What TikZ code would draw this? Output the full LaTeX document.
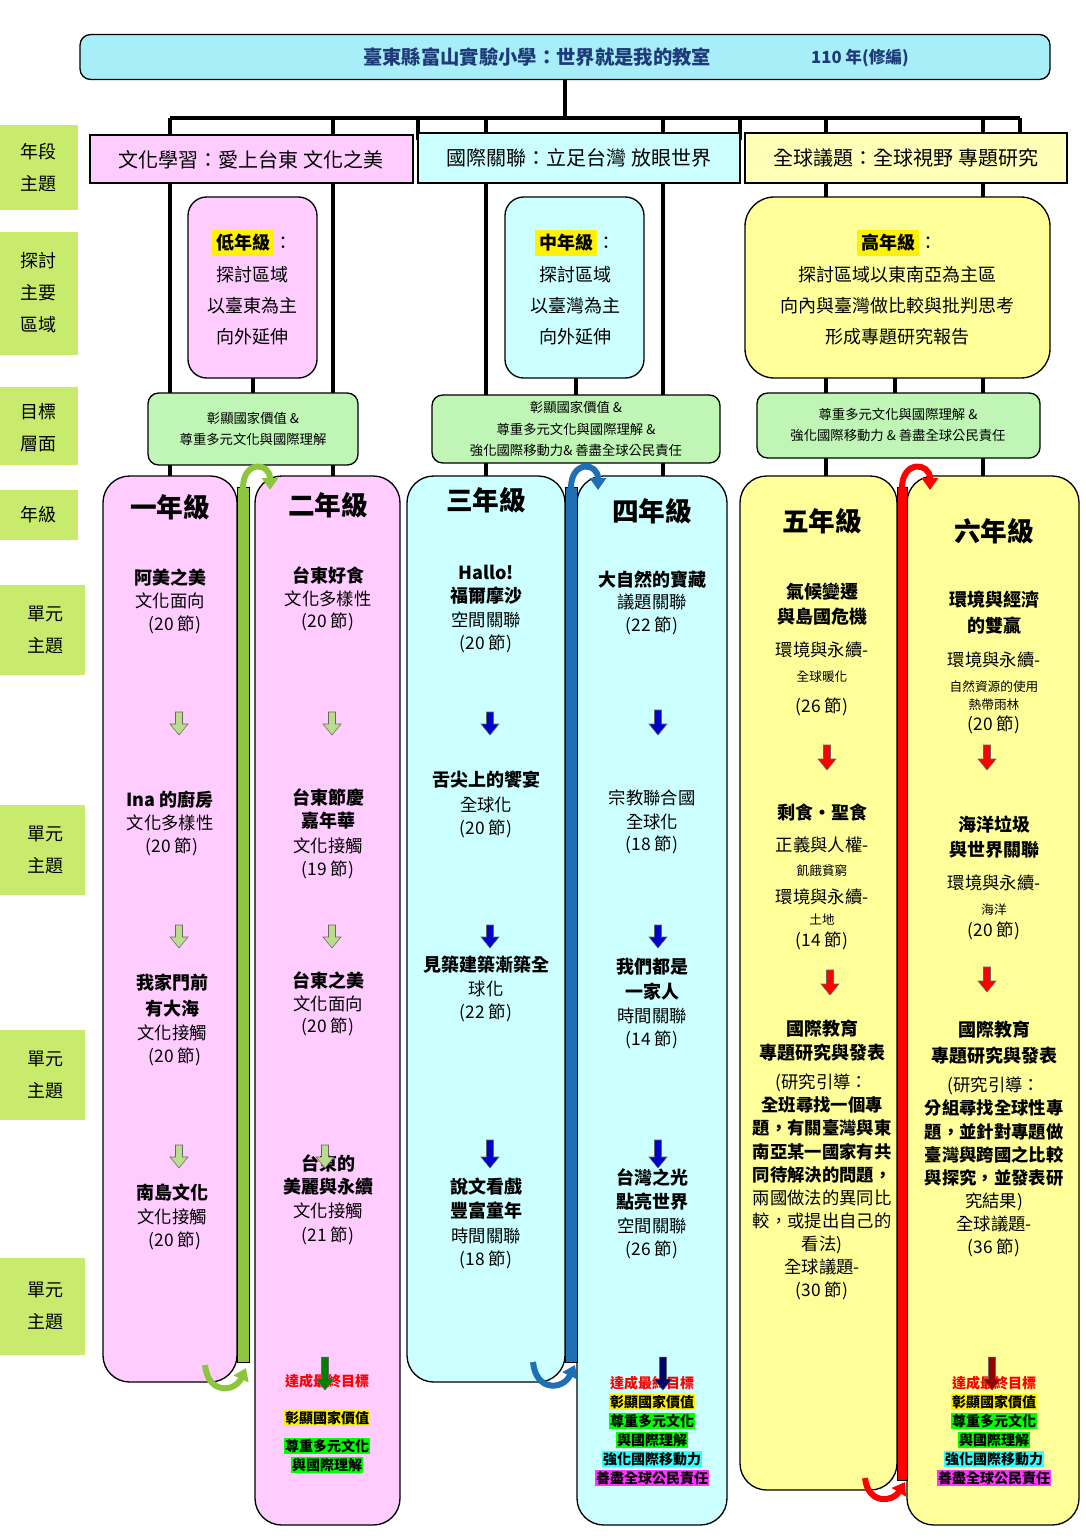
\documentclass[tikz,border=0pt]{standalone}
\usepackage{fontspec}
\setmainfont{Noto Sans CJK TC}
\usetikzlibrary{arrows.meta}
\definecolor{lab}{HTML}{C8EB6E}
\definecolor{pinkf}{HTML}{FFCCFF}
\definecolor{cyanf}{HTML}{CCFFFF}
\definecolor{yelf}{HTML}{FFFF99}
\definecolor{goalf}{HTML}{BFF5B5}
\definecolor{titf}{HTML}{A8EEF8}
\definecolor{gbar}{HTML}{8CC63F}
\definecolor{bbar}{HTML}{1F6FB5}
\definecolor{titc}{HTML}{1F3A78}
\definecolor{mag}{HTML}{FF33FF}
\definecolor{brt}{HTML}{00FF00}
\definecolor{cy}{HTML}{33FFFF}
\tikzset{
  x=0.75pt,y=-0.75pt,
  lbl/.style={fill=lab,draw=none,align=center,font=\fontsize{13.5}{24}\selectfont,inner sep=0},
  box/.style={draw=black,line width=1pt,rounded corners=14pt},
  t/.style={align=center,font=\fontsize{13}{15}\selectfont,inner sep=0},
  b/.style={t,font=\fontsize{13.5}{15}\selectfont\bfseries},
  s/.style={t,font=\fontsize{9.5}{11}\selectfont},
  g/.style={t,font=\fontsize{20}{22}\selectfont\bfseries},
  tree/.style={line width=3pt,black},
  hl/.style={t,font=\fontsize{10.5}{12}\selectfont\bfseries,inner sep=1pt},
}
\newcommand{\darr}[4]{% x y1 y2 color
  \fill[#4,draw=black!60] (#1-3.5,#2) -- (#1+3.5,#2) -- (#1+3.5,#3-11) -- (#1+9,#3-11) -- (#1,#3) -- (#1-9,#3-11) -- (#1-3.5,#3-11) -- cycle;}
\begin{document}
\begin{tikzpicture}
\useasboundingbox (0,0) rectangle (1085,1538);
% tree lines
\draw[tree] (565,80) -- (565,118);
\draw[tree] (170,118) -- (1020,118);
\foreach \xx in {170,333,418,486,663,740,826,983,1020} \draw[tree] (\xx,118) -- (\xx,140);
\foreach \xx in {170,333,486,663,826,983} \draw[tree] (\xx,118) -- (\xx,480);
\foreach \xx in {253,576,895} \draw[tree] (\xx,370) -- (\xx,400);
% title
\node[box,fill=titf,rounded corners=8pt,minimum width=970*0.75pt,minimum height=45*0.75pt] (title) at (565,57) {};
\node[t,text=titc,font=\fontsize{14.5}{16}\selectfont\bfseries] (tt) at (537,57) {臺東縣富山實驗小學：世界就是我的教室};
\node[t,text=titc,font=\fontsize{12.5}{14}\selectfont\bfseries] (ty) at (860,58) {110 年(修編)};
% left labels
\fill[lab] (0,125) rectangle (78,210); \node[lbl] (l1) at (39,168) {年段\\主題};
\fill[lab] (0,232) rectangle (78,355); \node[lbl] (l2) at (39,293) {探討\\主要\\區域};
\fill[lab] (0,387) rectangle (78,465); \node[lbl] (l3) at (39,428) {目標\\層面};
\fill[lab] (0,490) rectangle (78,540); \node[lbl] (l4) at (39,515) {年級};
\fill[lab] (0,585) rectangle (85,675); \node[lbl] (l5) at (45,630) {單元\\主題};
\fill[lab] (0,805) rectangle (85,895); \node[lbl] (l6) at (45,850) {單元\\主題};
\fill[lab] (0,1030) rectangle (85,1120); \node[lbl] (l7) at (45,1075) {單元\\主題};
\fill[lab] (0,1258) rectangle (85,1355); \node[lbl] (l8) at (45,1306) {單元\\主題};
% section headers
\draw[fill=pinkf,line width=1pt] (90,135) rectangle (413,183);
\node[t,font=\fontsize{15}{17}\selectfont] (h1) at (251,160) {文化學習：愛上台東\ 文化之美};
\draw[fill=cyanf,line width=1pt] (418,133) rectangle (740,183);
\node[t,font=\fontsize{15}{17}\selectfont] (h2) at (579,158) {國際關聯：立足台灣\ 放眼世界};
\draw[fill=yelf!70!white,line width=1pt] (745,133) rectangle (1067,183);
\node[t,font=\fontsize{15}{17}\selectfont] (h3) at (906,158) {全球議題：全球視野\ 專題研究};
% area boxes
\draw[box,fill=pinkf] (188,197) rectangle (317,378);
\node[t,font=\fontsize{13.5}{23.5}\selectfont] (a1) at (252,288) {\colorbox{yellow}{\bfseries 低年級}：\\探討區域\\以臺東為主\\向外延伸};
\draw[box,fill=cyanf] (505,197) rectangle (644,378);
\node[t,font=\fontsize{13.5}{23.5}\selectfont] (a2) at (575,288) {\colorbox{yellow}{\bfseries 中年級}：\\探討區域\\以臺灣為主\\向外延伸};
\draw[box,fill=yelf,rounded corners=22pt] (745,197) rectangle (1050,378);
\node[t,font=\fontsize{13.5}{23.5}\selectfont] (a3) at (897,288) {\colorbox{yellow}{\bfseries 高年級}：\\探討區域以東南亞為主區\\向內與臺灣做比較與批判思考\\形成專題研究報告};
% goal boxes
\draw[box,fill=goalf,rounded corners=8pt] (148,393) rectangle (358,465);
\node[t,font=\fontsize{10}{16}\selectfont] (g1) at (253,429) {彰顯國家價值\ \&\\尊重多元文化與國際理解};
\draw[box,fill=goalf,rounded corners=8pt] (432,395) rectangle (720,463);
\node[t,font=\fontsize{10}{16}\selectfont] (g2) at (576,429) {彰顯國家價值\ \&\\尊重多元文化與國際理解\ \&\\強化國際移動力\&\ 善盡全球公民責任};
\draw[box,fill=goalf,rounded corners=8pt] (757,393) rectangle (1040,458);
\node[t,font=\fontsize{10}{16}\selectfont] (g3) at (898,425) {尊重多元文化與國際理解\ \&\\強化國際移動力\ \&\ 善盡全球公民責任};
% grade columns
\draw[box,fill=pinkf,rounded corners=20pt] (103,476) rectangle (237,1382);
\draw[box,fill=pinkf,rounded corners=20pt] (255,476) rectangle (400,1525);
\draw[box,fill=cyanf,rounded corners=20pt] (407,476) rectangle (565,1382);
\draw[box,fill=cyanf,rounded corners=20pt] (577,476) rectangle (727,1525);
\draw[box,fill=yelf,rounded corners=20pt] (740,476) rectangle (897,1490);
\draw[box,fill=yelf,rounded corners=20pt] (907,476) rectangle (1079,1525);
% bars
\draw[fill=gbar,line width=0.6pt] (237,487) rectangle (249,1362);
\draw[fill=bbar,line width=0.6pt] (565,487) rectangle (577,1362);
\draw[fill=red,line width=0.6pt] (897,487) rectangle (907,1480);
% curved arrows
\draw[line width=4.5pt,gbar,-{Triangle[length=9pt,width=12pt]}] (243,488) .. controls (243,460) and (270,462) .. (270,490);
\draw[line width=4.5pt,bbar,-{Triangle[length=9pt,width=12pt]}] (571,488) .. controls (571,460) and (598,462) .. (598,490);
\draw[line width=4.5pt,red,-{Triangle[length=9pt,width=12pt]}] (902,488) .. controls (902,460) and (930,462) .. (930,490);
\draw[line width=4.5pt,gbar,-{Triangle[length=9pt,width=12pt]}] (205,1365) .. controls (208,1395) and (235,1392) .. (246,1368);
\draw[line width=4.5pt,bbar,-{Triangle[length=9pt,width=12pt]}] (533,1362) .. controls (536,1392) and (563,1390) .. (575,1365);
\draw[line width=4.5pt,red,-{Triangle[length=9pt,width=12pt]}] (865,1478) .. controls (868,1505) and (893,1502) .. (905,1482);
% grade titles
\node[g] (n1) at (170,507) {一年級};
\node[g] (n2) at (328,505) {二年級};
\node[g] (n3) at (486,500) {三年級};
\node[g] (n4) at (652,511) {四年級};
\node[g] (n5) at (822,521) {五年級};
\node[g] (n6) at (994,531) {六年級};
% col1
\node[b] at (170,578) {阿美之美}; \node[t] at (170,601) {文化面向}; \node[t] at (175,625) {(20 節)};
\darr{179}{712}{735}{white!40!gbar}
\node[b] at (170,800) {Ina 的廚房}; \node[t] at (170,823) {文化多樣性}; \node[t] at (172,847) {(20 節)};
\darr{179}{925}{948}{white!40!gbar}
\node[b] at (172,983) {我家門前}; \node[b] at (172,1009) {有大海}; \node[t] at (172,1033) {文化接觸}; \node[t] at (175,1057) {(20 節)};
\darr{179}{1145}{1168}{white!40!gbar}
\node[b] at (172,1193) {南島文化}; \node[t] at (172,1217) {文化接觸}; \node[t] at (175,1241) {(20 節)};
% col2
\node[b] at (328,575) {台東好食}; \node[t] at (328,599) {文化多樣性}; \node[t] at (328,622) {(20 節)};
\darr{332}{712}{735}{white!40!gbar}
\node[b] at (328,797) {台東節慶}; \node[b] at (328,821) {嘉年華}; \node[t] at (328,846) {文化接觸}; \node[t] at (328,870) {(19 節)};
\darr{332}{925}{948}{white!40!gbar}
\node[b] at (328,980) {台東之美}; \node[t] at (328,1004) {文化面向}; \node[t] at (328,1027) {(20 節)};
\node[b] at (328,1163) {台東的}; \node[b] at (328,1187) {美麗與永續}; \node[t] at (328,1211) {文化接觸}; \node[t] at (328,1236) {(21 節)};
\darr{325}{1145}{1168}{white!40!gbar}
\node[hl,text=red] at (327,1381) {達成最終目標};
\darr{325}{1357}{1390}{green!50!black}
\node[hl,fill=yellow] at (327,1418) {彰顯國家價值};
\node[hl,fill=brt] at (327,1446) {尊重多元文化};
\node[hl,fill=brt] at (327,1465) {與國際理解};
% col3
\node[b] at (486,572) {Hallo!}; \node[b] at (486,596) {福爾摩沙}; \node[t] at (486,620) {空間關聯}; \node[t] at (486,644) {(20 節)};
\darr{490}{712}{735}{blue!80!black}
\node[b] at (486,780) {舌尖上的饗宴}; \node[t] at (486,805) {全球化}; \node[t] at (486,829) {(20 節)};
\darr{490}{925}{948}{blue!80!black}
\node[b] at (486,965) {見築建築漸築全}; \node[t] at (486,989) {球化}; \node[t] at (486,1013) {(22 節)};
\darr{490}{1140}{1168}{blue!80!black}
\node[b] at (486,1187) {說文看戲}; \node[b] at (486,1211) {豐富童年}; \node[t] at (486,1236) {時間關聯}; \node[t] at (486,1260) {(18 節)};
% col4
\node[b] at (652,580) {大自然的寶藏}; \node[t] at (652,602) {議題關聯}; \node[t] at (652,626) {(22 節)};
\darr{658}{710}{735}{blue!80!black}
\node[t] at (652,798) {宗教聯合國}; \node[t] at (652,822) {全球化}; \node[t] at (652,845) {(18 節)};
\darr{658}{925}{948}{blue!80!black}
\node[b] at (652,967) {我們都是}; \node[b] at (652,992) {一家人}; \node[t] at (652,1016) {時間關聯}; \node[t] at (652,1040) {(14 節)};
\darr{658}{1140}{1168}{blue!80!black}
\node[b] at (652,1177) {台灣之光}; \node[b] at (652,1202) {點亮世界}; \node[t] at (652,1226) {空間關聯}; \node[t] at (652,1250) {(26 節)};
\node[hl,text=red] at (652,1383) {達成最終目標};
\darr{663}{1357}{1390}{blue!40!black}
\node[hl,fill=yellow] at (652,1402) {彰顯國家價值};
\node[hl,fill=brt] at (652,1421) {尊重多元文化};
\node[hl,fill=brt] at (652,1440) {與國際理解};
\node[hl,fill=cy] at (652,1459) {強化國際移動力};
\node[hl,fill=mag] at (652,1478) {善盡全球公民責任};
% col5
\node[b] at (822,592) {氣候變遷}; \node[b] at (822,617) {與島國危機};
\node[t] at (822,650) {環境與永續-}; \node[s] at (822,677) {全球暖化}; \node[t] at (822,707) {(26 節)};
\darr{827}{745}{770}{red}
\node[b] at (822,812) {剩食‧聖食}; \node[t] at (822,845) {正義與人權-}; \node[s] at (822,871) {飢餓貧窮};
\node[t] at (822,897) {環境與永續-}; \node[s] at (822,920) {土地}; \node[t] at (822,941) {(14 節)};
\darr{830}{970}{995}{red}
\node[b] at (822,1029) {國際教育}; \node[b] at (822,1053) {專題研究與發表};
\node[t,font=\fontsize{13}{17.3}\selectfont] at (822,1187) {(研究引導：\\{\bfseries 全班尋找一個專}\\{\bfseries 題，有關臺灣與東}\\{\bfseries 南亞某一國家有共}\\{\bfseries 同待解決的問題，}\\兩國做法的異同比\\較，或提出自己的\\看法)\\全球議題-\\(30 節)};
% col6
\node[b] at (994,600) {環境與經濟}; \node[b] at (994,626) {的雙贏};
\node[t] at (994,660) {環境與永續-}; \node[s] at (994,687) {自然資源的使用}; \node[s] at (994,705) {熱帶雨林}; \node[t] at (994,725) {(20 節)};
\darr{987}{745}{770}{red}
\node[b] at (994,825) {海洋垃圾}; \node[b] at (994,850) {與世界關聯};
\node[t] at (994,883) {環境與永續-}; \node[s] at (994,910) {海洋}; \node[t] at (994,931) {(20 節)};
\darr{987}{967}{992}{red}
\node[b] at (994,1030) {國際教育}; \node[b] at (994,1056) {專題研究與發表};
\node[t,font=\fontsize{13}{17.3}\selectfont] at (994,1167) {(研究引導：\\{\bfseries 分組尋找全球性專}\\{\bfseries 題，並針對專題做}\\{\bfseries 臺灣與跨國之比較}\\{\bfseries 與探究，並發表研}\\究結果)\\全球議題-\\(36 節)};
\node[hl,text=red] at (994,1383) {達成最終目標};
\darr{992}{1357}{1390}{red!60!black}
\node[hl,fill=yellow] at (994,1402) {彰顯國家價值};
\node[hl,fill=brt] at (994,1421) {尊重多元文化};
\node[hl,fill=brt] at (994,1440) {與國際理解};
\node[hl,fill=cy] at (994,1459) {強化國際移動力};
\node[hl,fill=mag] at (994,1478) {善盡全球公民責任};
\end{tikzpicture}
\end{document}
